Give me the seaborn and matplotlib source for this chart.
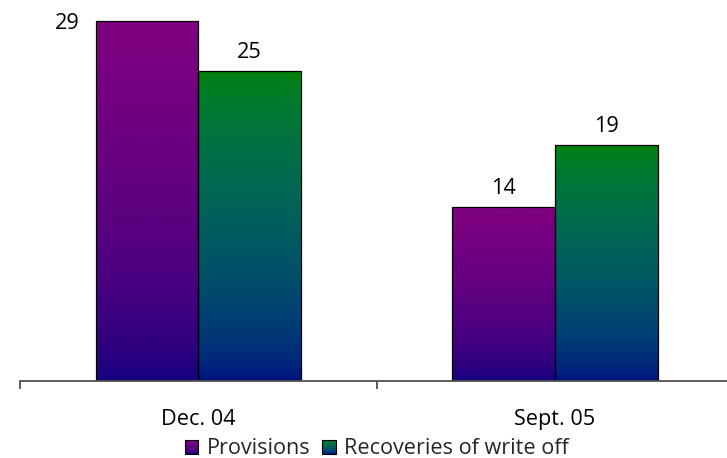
import numpy as np
import pandas as pd
import matplotlib
matplotlib.use("Agg")
import matplotlib.pyplot as plt
from matplotlib.patches import Patch, Rectangle
from matplotlib.legend_handler import HandlerBase
import seaborn as sns

# ---- data ----
periods = ["Dec. 04", "Sept. 05"]
series = ["Provisions", "Recoveries of write off"]
provisions = [29, 14]
recoveries = [25, 19]

# gradient end colours (top, bottom) per series
grad_colors = {
    "Provisions": ((128, 0, 128), (18, 0, 128)),
    "Recoveries of write off": ((0, 128, 0), (0, 16, 128)),
}

sns.set_theme(style="white")
plt.rcParams["font.family"] = ["Open Sans", "DejaVu Sans"]
FS = 15.6


def blend(top, bottom, t):
    """Blend two 0-255 RGB colours in linear light; t=0 -> top, t=1 -> bottom."""
    top = (np.asarray(top, float) / 255.0) ** 2.2
    bottom = (np.asarray(bottom, float) / 255.0) ** 2.2
    t = np.asarray(t, float)[..., None]
    return (top * (1 - t) + bottom * t) ** (1 / 2.2)


df = pd.DataFrame({
    "period": periods * 2,
    "series": [series[0]] * len(periods) + [series[1]] * len(periods),
    "value": provisions + recoveries,
})

fig = plt.figure(figsize=(7.27, 4.58), dpi=100)
W, H = 727, 458
ax_left, ax_bottom = 20, 458 - 380.7
ax_w, ax_h = 713.4, 371.6
ax = fig.add_axes([ax_left / W, ax_bottom / H, ax_w / W, ax_h / H])

sns.barplot(data=df, x="period", y="value", hue="series", order=periods,
            hue_order=series, width=0.575, palette=["#800080", "#008000"],
            edgecolor="black", linewidth=0.9, legend=False, ax=ax)

# fill each bar with a vertical gradient clipped to the bar outline
bars = list(ax.patches)
bar_series = [s for s in series for _ in periods]
for patch, s in zip(bars, bar_series):
    x0, y0 = patch.get_x(), patch.get_y()
    w, h = patch.get_width(), patch.get_height()
    img = blend(*grad_colors[s], np.linspace(0, 1, 256))[:, None, :]
    im = ax.imshow(img, extent=[x0, x0 + w, y0, y0 + h], aspect="auto",
                   origin="upper", zorder=patch.get_zorder() - 0.1,
                   interpolation="bilinear")
    im.set_clip_path(patch)
    patch.set_facecolor("none")

ax.set_xlim(-0.5, 1.5)
ax.set_ylim(0, 30)
ax.set_aspect("auto")

# value labels
for patch, val in zip(bars, provisions + recoveries):
    x0, w = patch.get_x(), patch.get_width()
    if val == max(provisions + recoveries):
        ax.annotate(f"{val}", xy=(x0, val), xytext=(-16, 0),
                    textcoords="offset pixels", ha="right",
                    va="center_baseline", fontsize=FS, color="black")
    else:
        ax.annotate(f"{val}", xy=(x0 + w / 2, val), xytext=(0, 13),
                    textcoords="offset pixels", ha="center", va="baseline",
                    fontsize=FS, color="black")

# axes styling
for side in ["top", "right", "left"]:
    ax.spines[side].set_visible(False)
ax.spines["bottom"].set_color("#505050")
ax.spines["bottom"].set_linewidth(1.3)
ax.set_yticks([])
ax.set_xticks([-0.5, 0.5, 1.5])
ax.set_xticklabels([])
ax.tick_params(axis="x", which="major", direction="out", length=5.8,
               width=1.3, color="#505050", bottom=True)
ax.set_xticks([0, 1], minor=True)
ax.set_xticklabels(periods, minor=True)
ax.tick_params(axis="x", which="minor", length=0, pad=20.5, labelsize=FS,
               labelcolor="black", bottom=True)
ax.set_xlabel("")
ax.set_ylabel("")


class GradientHandler(HandlerBase):
    def __init__(self, top, bottom, n=14):
        super().__init__()
        self.top = top
        self.bottom = bottom
        self.n = n

    def create_artists(self, legend, orig_handle, xdescent, ydescent,
                       width, height, fontsize, trans):
        arts = []
        x = -xdescent
        y = -ydescent
        for i in range(self.n):
            t = 1 - (i + 0.5) / self.n  # strip 0 sits at the bottom
            c = blend(self.top, self.bottom, t)
            arts.append(Rectangle((x, y + i * height / self.n), width,
                                  height / self.n + 0.01, facecolor=c,
                                  edgecolor="none", transform=trans))
        arts.append(Rectangle((x, y), width, height, fill=False,
                              edgecolor="black", linewidth=0.8,
                              transform=trans))
        return arts


handles = [Patch(label=s) for s in series]
handler_map = {h: GradientHandler(*grad_colors[s]) for h, s in zip(handles, series)}
fig.legend(handles=handles, labels=series, handler_map=handler_map,
           loc="center", bbox_to_anchor=(377 / W, 1 - 449 / H), ncol=2,
           frameon=False, fontsize=FS, handlelength=0.62, handleheight=0.62,
           handletextpad=0.4, columnspacing=0.55, borderpad=0, borderaxespad=0)

fig.savefig("out.png", dpi=100)
